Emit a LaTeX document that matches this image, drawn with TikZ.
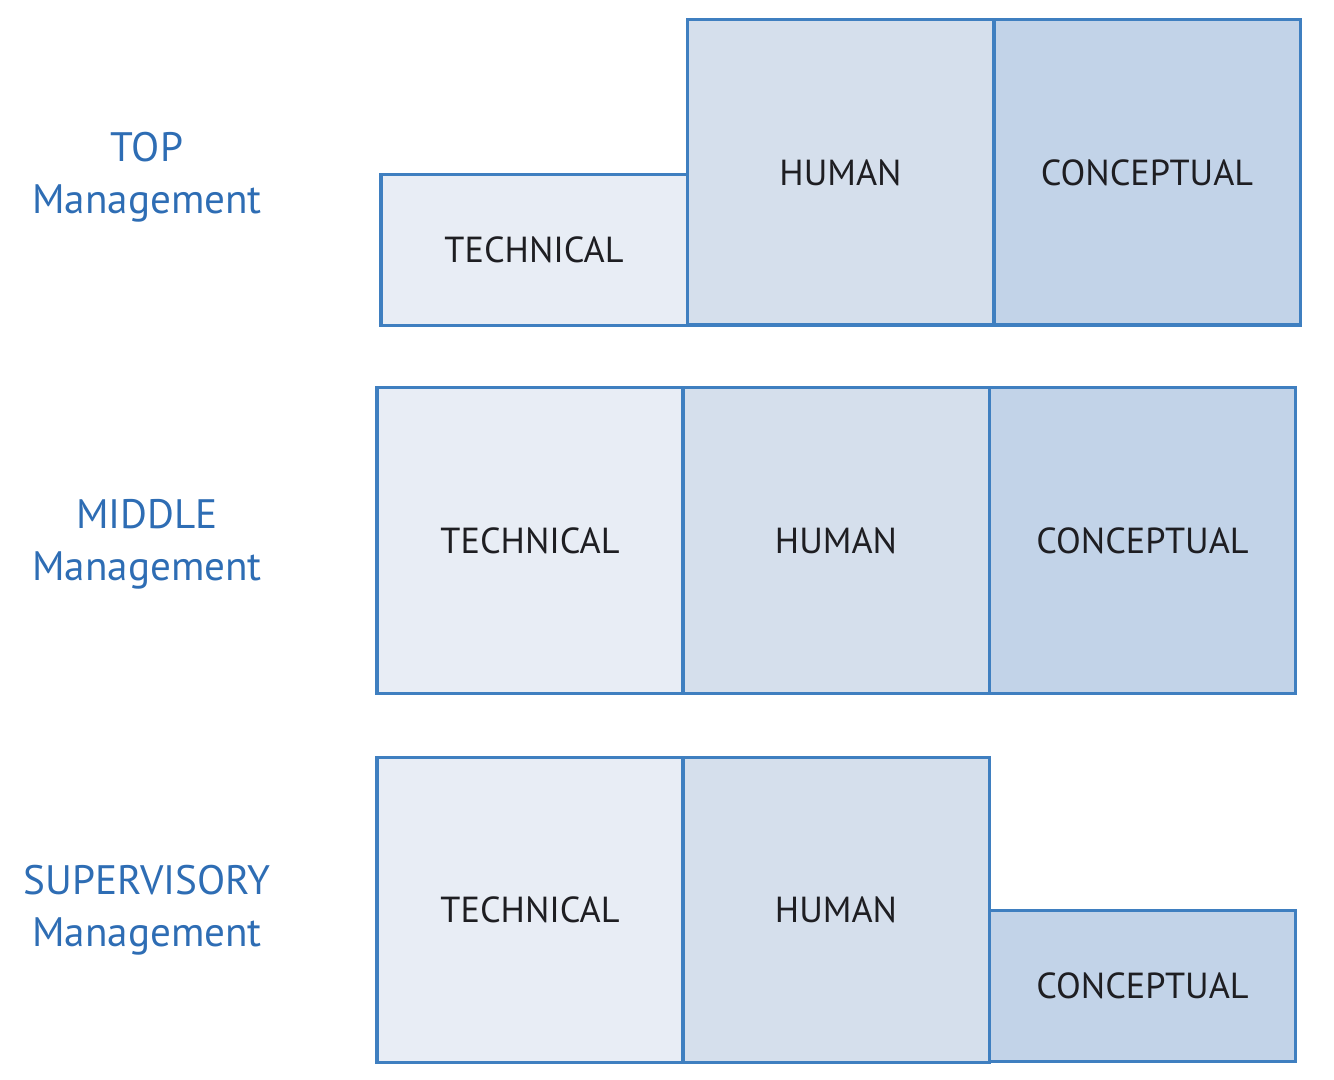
\documentclass[tikz,border=0pt]{standalone}
\usepackage{fontspec}
\setmainfont{PT Sans}
\definecolor{edgeblue}{HTML}{3F7FC0}
\definecolor{labelblue}{HTML}{2E6DB4}
\definecolor{techfill}{HTML}{E8EDF5}
\definecolor{humfill}{HTML}{D5DFEC}
\definecolor{confill}{HTML}{C2D3E8}
\definecolor{txtgray}{HTML}{1E1E22}
\begin{document}
\begin{tikzpicture}[x=0.01cm,y=-0.01cm,
  cell/.style={draw=edgeblue, line width=0.9pt, rectangle, inner sep=0pt,
    minimum width=3.06cm, text=txtgray, font=\fontsize{10.3}{12}\selectfont},
  tech/.style={cell, fill=techfill},
  hum/.style={cell, fill=humfill},
  con/.style={cell, fill=confill},
  tall/.style={minimum height=3.05cm},
  short/.style={minimum height=1.51cm},
  lvl/.style={text=labelblue, align=center, font=\fontsize{11.7}{14}\selectfont, inner sep=0pt}
]
\useasboundingbox (0,0) rectangle (1334,1080);
% top
\node[tech, short] (t1) at (534,250) {TECHNICAL};
\node[hum, tall] (h1) at (840.5,172.5) {HUMAN};
\node[con, tall] (c1) at (1147,172.5) {CONCEPTUAL};
% middle
\node[tech, tall] (t2) at (530,540.5) {TECHNICAL};
\node[hum, tall] (h2) at (836,540.5) {HUMAN};
\node[con, tall] (c2) at (1142.5,540.5) {CONCEPTUAL};
% bottom
\node[tech, tall] (t3) at (530,910) {TECHNICAL};
\node[hum, tall] (h3) at (836,910) {HUMAN};
\node[con, short] (c3) at (1142.5,986) {CONCEPTUAL};
% labels
\node[lvl] (l1a) at (147,147) {TOP};
\node[lvl] (l1b) at (147,203) {Management};
\node[lvl] (l2a) at (147,514) {MIDDLE};
\node[lvl] (l2b) at (147,570) {Management};
\node[lvl] (l3a) at (147,880) {SUPERVISORY};
\node[lvl] (l3b) at (147,936) {Management};
\end{tikzpicture}
\end{document}
